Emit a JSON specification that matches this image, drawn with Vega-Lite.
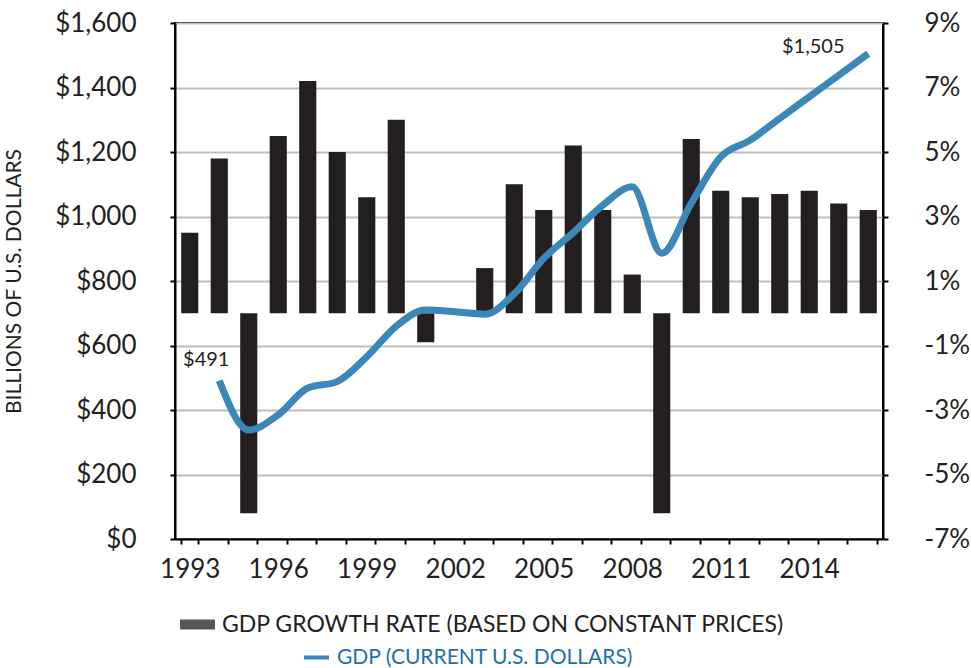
{
  "$schema": "https://vega.github.io/schema/vega-lite/v6.json",
  "autosize": {"type": "none"},
  "padding": {"left": 175, "top": 23, "right": 88, "bottom": 129},
  "width": 708,
  "height": 516,
  "background": "white",
  "config": {
    "font": "Lato",
    "view": {"stroke": "#000000", "strokeWidth": 2},
    "axis": {
      "labelFont": "Lato",
      "labelColor": "#231f20",
      "titleFont": "Lato",
      "titleColor": "#231f20",
      "domainColor": "#000000",
      "domainWidth": 2,
      "tickColor": "#000000",
      "tickWidth": 2,
      "gridColor": "#bdbdbd",
      "gridWidth": 2
    },
    "legend": {"labelFont": "Lato", "labelFontSize": 22}
  },
  "data": {
    "values": [
      {"year": 1993, "growth": 2.5, "gdp": null},
      {"year": 1994, "growth": 4.8, "gdp": 491},
      {"year": 1995, "growth": -6.2, "gdp": 338},
      {"year": 1996, "growth": 5.5, "gdp": 385},
      {"year": 1997, "growth": 7.2, "gdp": 468},
      {"year": 1998, "growth": 5.0, "gdp": 488},
      {"year": 1999, "growth": 3.6, "gdp": 565},
      {"year": 2000, "growth": 6.0, "gdp": 660},
      {"year": 2001, "growth": -0.9, "gdp": 710},
      {"year": 2002, "growth": 0.1, "gdp": 705},
      {"year": 2003, "growth": 1.4, "gdp": 697},
      {"year": 2004, "growth": 4.0, "gdp": 760},
      {"year": 2005, "growth": 3.2, "gdp": 870},
      {"year": 2006, "growth": 5.2, "gdp": 950},
      {"year": 2007, "growth": 3.2, "gdp": 1035},
      {"year": 2008, "growth": 1.2, "gdp": 1092},
      {"year": 2009, "growth": -6.2, "gdp": 886},
      {"year": 2010, "growth": 5.4, "gdp": 1041},
      {"year": 2011, "growth": 3.8, "gdp": 1185},
      {"year": 2012, "growth": 3.6, "gdp": 1237},
      {"year": 2013, "growth": 3.7, "gdp": 1304},
      {"year": 2014, "growth": 3.8, "gdp": 1371},
      {"year": 2015, "growth": 3.4, "gdp": 1438},
      {"year": 2016, "growth": 3.2, "gdp": 1505}
    ]
  },
  "encoding": {
    "x": {
      "field": "year",
      "type": "ordinal",
      "scale": {"paddingInner": 0.42, "paddingOuter": 0.21},
      "axis": {
        "title": null,
        "labelAngle": 0,
        "labelFontSize": 26,
        "labelPadding": 12,
        "tickSize": 5,
        "tickBand": "extent",
        "grid": false,
        "labelExpr": "(+datum.value - 1993) % 3 == 0 ? datum.value : ''"
      }
    }
  },
  "layer": [
    {
      "mark": {"type": "bar"},
      "encoding": {
        "y": {
          "field": "growth",
          "type": "quantitative",
          "scale": {"domain": [-7, 9], "nice": false, "zero": false},
          "axis": {
            "orient": "right",
            "title": null,
            "values": [-7, -5, -3, -1, 1, 3, 5, 7, 9],
            "labelExpr": "datum.value + '%'",
            "labelFontSize": 26,
            "labelPadding": 36,
            "tickSize": 5,
            "grid": true
          }
        },
        "fill": {
          "datum": "GDP GROWTH RATE (BASED ON CONSTANT PRICES)",
          "type": "nominal",
          "scale": {"range": ["#231f20"]},
          "legend": {
            "title": null,
            "orient": "none",
            "legendX": 11,
            "legendY": 590,
            "symbolType": "M-1.75,-0.5H1.75V0.5H-1.75Z",
            "symbolSize": 400,
            "symbolOpacity": 0.76,
            "labelColor": "#231f20",
            "labelFontSize": 23,
            "labelOffset": 13,
            "labelLimit": 700
          }
        }
      }
    },
    {
      "mark": {"type": "line", "interpolate": "monotone", "strokeWidth": 7, "strokeCap": "butt"},
      "encoding": {
        "y": {
          "field": "gdp",
          "type": "quantitative",
          "scale": {"domain": [0, 1600], "nice": false},
          "axis": {
            "orient": "left",
            "title": "BILLIONS OF U.S. DOLLARS",
            "titleFontSize": 21,
            "titleFontWeight": "normal",
            "titlePadding": 30,
            "values": [0, 200, 400, 600, 800, 1000, 1200, 1400, 1600],
            "format": "$,d",
            "labelFontSize": 26,
            "labelPadding": 34,
            "tickSize": 5,
            "grid": false
          }
        },
        "stroke": {
          "datum": "GDP (CURRENT U.S. DOLLARS)",
          "type": "nominal",
          "scale": {"range": ["#3a87b8"]},
          "legend": {
            "title": null,
            "orient": "none",
            "legendX": 127,
            "legendY": 620,
            "symbolType": "stroke",
            "symbolSize": 625,
            "symbolStrokeWidth": 4,
            "labelColor": "#1f6fae",
            "labelFontSize": 21,
            "labelOffset": 6,
            "labelLimit": 500
          }
        }
      }
    },
    {
      "transform": [{"filter": "datum.year == 1994"}],
      "mark": {"type": "text", "fontSize": 20, "color": "#231f20", "dx": -13, "dy": -21},
      "encoding": {
        "y": {"field": "gdp", "type": "quantitative", "scale": {"domain": [0, 1600], "nice": false}, "axis": null},
        "text": {"field": "gdp", "type": "quantitative", "format": "$,d"}
      }
    },
    {
      "transform": [{"filter": "datum.year == 2016"}],
      "mark": {"type": "text", "fontSize": 20, "color": "#231f20", "dx": -55, "dy": -7},
      "encoding": {
        "y": {"field": "gdp", "type": "quantitative", "scale": {"domain": [0, 1600], "nice": false}, "axis": null},
        "text": {"field": "gdp", "type": "quantitative", "format": "$,d"}
      }
    }
  ],
  "resolve": {"scale": {"y": "independent", "fill": "independent", "stroke": "independent"}, "legend": {"fill": "independent", "stroke": "independent"}}
}
